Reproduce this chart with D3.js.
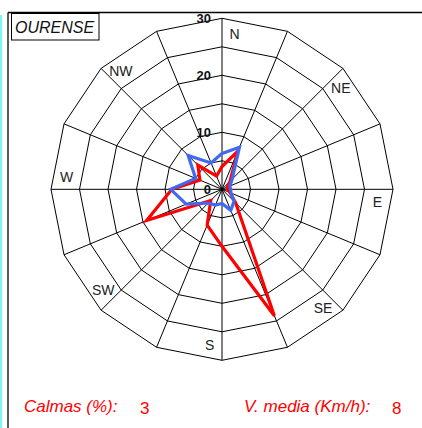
<!DOCTYPE html>
<html>
<head>
<meta charset="utf-8">
<script src="https://cdn.jsdelivr.net/npm/d3@7"></script>
<style>
  body { margin: 0; background: #fff; }
  svg { display: block; font-family: "Liberation Sans", Arial, sans-serif; }
</style>
</head>
<body>
<svg width="422" height="428"></svg>
<script>
// 16 wind directions, clockwise from north
const directions = ["N","NNE","NE","ENE","E","ESE","SE","SSE","S","SSW","SW","WSW","W","WNW","NW","NNW"]
const dirLabels = ["N","NE","E","SE","S","SW","W","NW"]

// red series (frequency %) and blue series
const redValues  = [4, 7.2, 2, 1, 1, 1.5, 3.4, 24, 10, 6.8, 2.8, 14.3, 8.8, 4.2, 6, 2.5]
const blueValues = [6.3, 8, 2.5, 1.5, 1.5, 1.7, 3, 4, 2.5, 3, 3.4, 6.8, 9, 5, 8.4, 5]

const ringValues = [5, 10, 15, 20, 25, 30]
const tickValues = [0, 10, 20, 30]

const station = "OURENSE"
const calmas = 3
const vmedia = 8

var svg = d3.select("svg")
var cx = 222, cy = 189.3

var r = d3.scaleLinear().domain([0, 30]).range([0, 171])
var ang = d3.scaleLinear().domain([0, directions.length]).range([0, 2 * Math.PI])

// page frame
svg.append("line").attr("x1", 1).attr("x2", 1).attr("y1", 15).attr("y2", 428)
  .attr("stroke", "#7ff5f5").attr("stroke-width", 2.5)
svg.append("line").attr("x1", 8).attr("x2", 8).attr("y1", 12.5).attr("y2", 428)
  .attr("stroke", "#000").attr("stroke-width", 1.3)
svg.append("line").attr("x1", 8).attr("x2", 422).attr("y1", 12.5).attr("y2", 12.5)
  .attr("stroke", "#000").attr("stroke-width", 1.3)

// title box
svg.append("rect").attr("x", 11.5).attr("y", 13.5).attr("width", 87.5).attr("height", 26.5)
  .attr("fill", "#fff").attr("stroke", "#000").attr("stroke-width", 1)
svg.append("text").attr("x", 15).attr("y", 32.5)
  .attr("font-size", 16).attr("font-style", "italic").attr("fill", "#111")
  .text(station)

var g = svg.append("g").attr("transform", "translate(" + cx + "," + cy + ")")

// rings (16-sided polygons)
var ringLine = d3.lineRadial()
  .angle((d, i) => ang(i))
  .radius(d => r(d))
  .curve(d3.curveLinearClosed)

g.selectAll(".ring")
  .data(ringValues)
  .enter().append("path")
  .attr("class", "ring")
  .attr("d", v => ringLine(directions.map(() => v)))
  .attr("fill", "none").attr("stroke", "#000").attr("stroke-width", 1)

// spokes
g.selectAll(".spoke")
  .data(directions)
  .enter().append("line")
  .attr("class", "spoke")
  .attr("x1", 0).attr("y1", 0)
  .attr("x2", (d, i) => r(30) * Math.sin(ang(i)))
  .attr("y2", (d, i) => -r(30) * Math.cos(ang(i)))
  .attr("stroke", "#000").attr("stroke-width", 1)

// series
var seriesLine = d3.lineRadial()
  .angle((d, i) => ang(i))
  .radius(d => r(d))
  .curve(d3.curveLinearClosed)

g.append("path").attr("d", seriesLine(redValues))
  .attr("fill", "none").attr("stroke", "#ff0000").attr("stroke-width", 3.2)
  .attr("stroke-linejoin", "miter")
g.append("path").attr("d", seriesLine(blueValues))
  .attr("fill", "none").attr("stroke", "#4169f0").attr("stroke-width", 3.2)
  .attr("stroke-linejoin", "miter")

// scale labels
g.selectAll(".tick")
  .data(tickValues)
  .enter().append("text")
  .attr("x", -11)
  .attr("y", d => -r(d))
  .attr("dy", "0.36em")
  .attr("text-anchor", "end")
  .attr("font-size", 13).attr("font-weight", "bold").attr("fill", "#111")
  .text(d => d)

// direction labels
g.selectAll(".dir")
  .data(dirLabels)
  .enter().append("text")
  .attr("x", d => { let a = ang(directions.indexOf(d)) + 0.08; return 156 * Math.sin(a) })
  .attr("y", d => { let a = ang(directions.indexOf(d)) + 0.08; return -156 * Math.cos(a) })
  .attr("dy", "0.36em")
  .attr("text-anchor", "middle")
  .attr("font-size", 14).attr("fill", "#222")
  .text(d => d)

// footer
svg.append("text").attr("x", 24).attr("y", 412)
  .attr("font-size", 17).attr("font-style", "italic").attr("fill", "#ff0000")
  .text("Calmas (%):")
svg.append("text").attr("x", 140).attr("y", 414)
  .attr("font-size", 17).attr("fill", "#ff0000")
  .text(calmas)
svg.append("text").attr("x", 244).attr("y", 412)
  .attr("font-size", 17).attr("font-style", "italic").attr("fill", "#ff0000")
  .text("V. media (Km/h):")
svg.append("text").attr("x", 392).attr("y", 414)
  .attr("font-size", 17).attr("fill", "#ff0000")
  .text(vmedia)
</script>
</body>
</html>
